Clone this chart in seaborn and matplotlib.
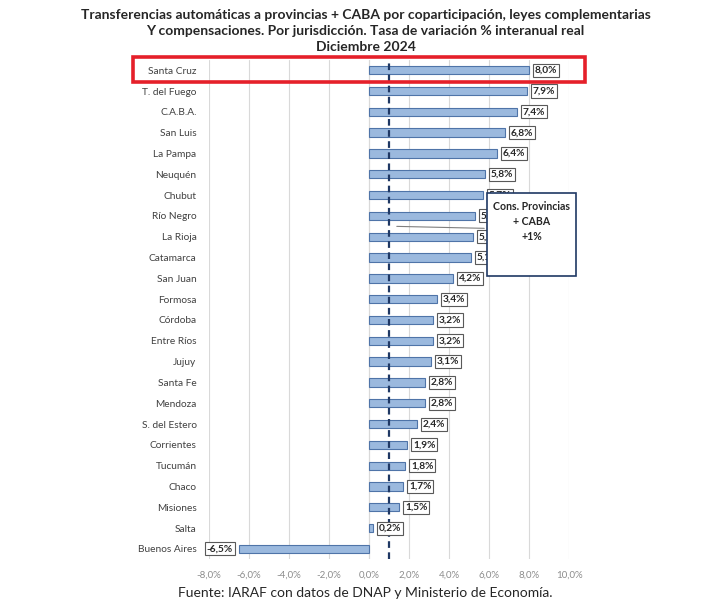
import numpy as np
import pandas as pd
import matplotlib
matplotlib.use("Agg")
import matplotlib.pyplot as plt
import seaborn as sns
from matplotlib.patches import Rectangle

# ---------------------------------------------------------------------------
# data
# ---------------------------------------------------------------------------
jurisdicciones = ["Santa Cruz", "T. del Fuego", "C.A.B.A.", "San Luis", "La Pampa",
                  "Neuquén", "Chubut", "Río Negro", "La Rioja", "Catamarca",
                  "San Juan", "Formosa", "Córdoba", "Entre Ríos", "Jujuy",
                  "Santa Fe", "Mendoza", "S. del Estero", "Corrientes", "Tucumán",
                  "Chaco", "Misiones", "Salta", "Buenos Aires"]
variacion = [8.0, 7.9, 7.4, 6.8, 6.4, 5.8, 5.7, 5.3, 5.2, 5.1, 4.2, 3.4, 3.2, 3.2,
             3.1, 2.8, 2.8, 2.4, 1.9, 1.8, 1.7, 1.5, 0.2, -6.5]
total_pais = 1.0
x_ticks = [-8, -6, -4, -2, 0, 2, 4, 6, 8, 10]
titulo = ["Transferencias automáticas a provincias + CABA por coparticipación, leyes complementarias",
          "Y compensaciones. Por jurisdicción. Tasa de variación % interanual real",
          "Diciembre 2024"]

df = pd.DataFrame({"jurisdiccion": jurisdicciones, "variacion": variacion})

sns.set_theme(style="white")
plt.rcParams["font.family"] = ["Lato", "DejaVu Sans"]

fig = plt.figure(figsize=(7.28, 6.10), dpi=100)
ax = fig.add_axes([0.2871, 0.083, 0.4945, 0.819])

sns.barplot(data=df, x="variacion", y="jurisdiccion", orient="h",
            color="#9BB9DE", edgecolor="#4F74A8", linewidth=0.8,
            width=0.4, saturation=1, ax=ax, zorder=2)

ax.set_xlim(-8, 10)
ax.set_xticks(x_ticks)
ax.set_xticklabels([f"{t:.1f}%".replace(".", ",") for t in x_ticks],
                   fontsize=7, color="#8C8C8C")
ax.tick_params(axis="y", labelsize=7.3, labelcolor="#404040", length=0, pad=9)
ax.tick_params(axis="x", length=0, pad=8)
ax.set_xlabel("")
ax.set_ylabel("")
for s in ax.spines.values():
    s.set_visible(False)
ax.grid(axis="x", color="#D9D9D9", linewidth=0.8, zorder=0)
ax.axvline(0, color="#D9D9D9", linewidth=0.8, zorder=1)

# dashed line: consolidated total
ax.axvline(total_pais, color="#1F3864", linestyle=(0, (3, 2)), linewidth=1.6, zorder=4)

# value labels
for i, v in enumerate(variacion):
    lab = f"{v:.1f}%".replace(".", ",")
    off = 0.3 if v >= 0 else -0.3
    ax.text(v + off, i, lab, ha="left" if v >= 0 else "right", va="center",
            fontsize=7.3, fontweight="bold", color="#262626", zorder=5,
            bbox=dict(boxstyle="square,pad=0.2", fc="white", ec="#595959", lw=0.8))

# callout box for the total
ax.annotate("", xy=(1.25, 7.5), xytext=(5.9, 7.6),
            arrowprops=dict(arrowstyle="-", color="#7F7F7F", lw=0.8), zorder=3)
ax.add_patch(Rectangle((5.9, 5.9), 4.45, 4.0, fc="white", ec="#1F3864", lw=1.2,
                       zorder=6, clip_on=False))
ax.text(8.12, 6.3, "Cons. Provincias\n+ CABA\n+1%", ha="center", va="top",
        fontsize=7.6, fontweight="bold", color="#262626", linespacing=1.45, zorder=7)

# title
for k, linea in enumerate(titulo):
    fig.text(0.502, 1 - (15 + 16 * k) / 610, linea, ha="center", va="center",
             fontsize=10, fontweight="bold", color="#262626")

# highlight of the first row
fig.patches.append(Rectangle((133 / 728, 1 - 82 / 610), (585 - 133) / 728, 25 / 610,
                             transform=fig.transFigure, fill=False, ec="#E5202A",
                             lw=2.6, zorder=10))

fig.text(0.502, 1 - 593 / 610, "Fuente: IARAF con datos de DNAP y Ministerio de Economía.",
         ha="center", va="center", fontsize=10, color="#262626")

fig.savefig("out.png", dpi=100, facecolor="white")
